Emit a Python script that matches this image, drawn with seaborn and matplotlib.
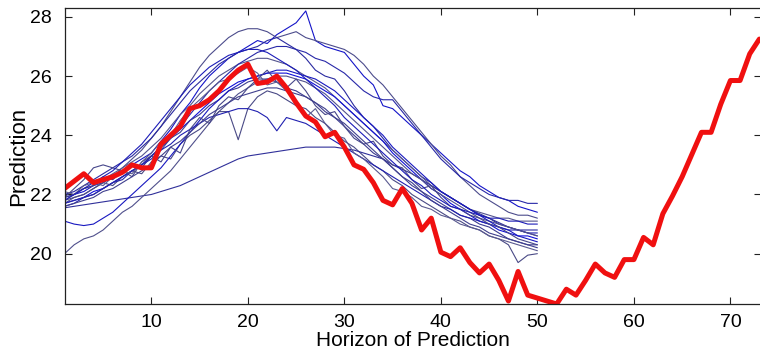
import numpy as np
import pandas as pd
import matplotlib
matplotlib.use("Agg")
import matplotlib.pyplot as plt
import seaborn as sns

sns.set_style("white")
plt.rcParams["font.family"] = ["Liberation Sans", "DejaVu Sans"]

# Observed series (red)
observed = [22.2, 22.45, 22.7, 22.4, 22.5, 22.6, 22.75, 23.0, 22.9, 22.9,
            23.7, 24.0, 24.3, 24.9, 25.0, 25.2, 25.5, 25.9, 26.2, 26.4,
            25.75, 25.8, 26.0, 25.6, 25.1, 24.65, 24.45, 23.95, 24.1, 23.6,
            23.0, 22.85, 22.4, 21.8, 21.65, 22.2, 21.7, 20.8, 21.2, 20.05,
            19.9, 20.2, 19.7, 19.35, 19.65, 19.1, 18.4, 19.4, 18.6, 18.5,
            18.4, 18.3, 18.8, 18.6, 19.1, 19.65, 19.35, 19.2, 19.8, 19.8,
            20.55, 20.3, 21.35, 21.95, 22.6, 23.35, 24.1, 24.1, 25.05, 25.85,
            25.85, 26.75, 27.25]

# Ensemble predictions (blue), horizons 1..50
pred01 = [21.9, 22.0, 22.1, 22.3, 22.4, 22.6, 22.8, 23.0, 23.2, 23.4, 23.8, 24.2, 24.7, 25.1, 25.6, 26.0, 26.3, 26.6, 26.8, 27.0, 27.2, 27.1, 27.4, 27.6, 27.8, 28.2, 27.2, 27.0, 26.9, 26.8, 26.4, 26.0, 25.7, 25.0, 24.9, 24.6, 24.3, 24.0, 23.7, 23.4, 23.1, 22.8, 22.6, 22.3, 22.1, 21.9, 21.8, 21.6, 21.5, 21.4]
pred02 = [21.7, 21.9, 22.0, 22.2, 22.4, 22.6, 22.9, 23.2, 23.5, 23.9, 24.3, 24.8, 25.3, 25.8, 26.3, 26.7, 27.0, 27.3, 27.5, 27.6, 27.6, 27.5, 27.3, 27.4, 27.5, 27.3, 27.2, 27.1, 27.0, 26.9, 26.7, 26.4, 26.0, 25.7, 25.3, 24.9, 24.5, 24.1, 23.7, 23.3, 23.0, 22.6, 22.3, 22.0, 21.8, 21.6, 21.4, 21.3, 21.3, 21.2]
pred03 = [22.0, 22.1, 22.3, 22.5, 22.7, 22.9, 23.1, 23.3, 23.6, 23.9, 24.3, 24.7, 25.1, 25.5, 25.8, 26.1, 26.4, 26.6, 26.8, 26.9, 27.0, 27.2, 27.3, 27.1, 26.9, 26.6, 26.2, 26.0, 25.9, 25.5, 25.0, 24.6, 24.3, 23.9, 23.5, 23.2, 22.9, 22.6, 22.4, 22.1, 21.9, 21.7, 21.5, 21.3, 21.2, 21.0, 20.9, 20.8, 20.8, 20.8]
pred04 = [21.8, 22.0, 22.2, 22.3, 22.5, 22.7, 22.9, 23.1, 23.3, 23.6, 23.9, 24.3, 24.7, 25.0, 25.4, 25.7, 26.0, 26.2, 26.4, 26.5, 26.6, 26.6, 26.5, 26.4, 26.2, 26.0, 25.8, 25.6, 25.3, 25.0, 24.7, 24.4, 24.1, 23.8, 23.5, 23.2, 22.9, 22.6, 22.3, 22.1, 21.9, 21.7, 21.5, 21.4, 21.3, 21.2, 21.2, 21.1, 21.1, 21.1]
pred05 = [21.7, 21.8, 21.9, 22.1, 22.2, 22.4, 22.6, 22.8, 23.0, 23.3, 23.6, 23.9, 24.2, 24.5, 24.8, 25.1, 25.4, 25.6, 25.8, 25.9, 26.0, 26.1, 26.1, 26.1, 26.0, 25.9, 25.7, 25.5, 25.3, 25.0, 24.7, 24.4, 24.1, 23.8, 23.4, 23.1, 22.8, 22.5, 22.2, 22.0, 21.7, 21.5, 21.3, 21.1, 21.0, 20.8, 20.7, 20.6, 20.6, 20.5]
pred06 = [21.9, 22.0, 22.2, 22.3, 22.6, 22.5, 22.8, 23.0, 22.9, 23.3, 23.5, 23.9, 24.1, 24.5, 24.7, 25.0, 25.2, 25.5, 25.6, 25.8, 25.9, 25.9, 25.8, 25.6, 25.5, 25.3, 25.1, 24.8, 24.6, 24.3, 24.0, 23.7, 23.4, 23.2, 22.9, 22.6, 22.4, 22.1, 21.9, 21.7, 21.5, 21.3, 21.2, 21.0, 20.9, 20.7, 20.5, 20.4, 20.3, 20.2]
pred07 = [21.8, 21.9, 22.0, 22.2, 22.4, 22.3, 22.6, 22.8, 22.7, 23.1, 23.3, 23.2, 23.7, 24.0, 24.2, 24.5, 24.8, 24.8, 23.85, 24.9, 25.3, 25.5, 25.4, 25.2, 25.0, 24.9, 24.6, 24.4, 24.1, 23.8, 23.6, 23.3, 23.0, 22.8, 22.5, 22.3, 22.0, 21.8, 21.6, 21.4, 21.2, 21.1, 20.9, 20.8, 20.6, 20.5, 20.3, 19.7, 19.95, 20.0]
pred08 = [21.6, 21.7, 21.9, 22.0, 22.2, 22.4, 22.6, 22.8, 23.0, 23.2, 23.5, 23.7, 24.0, 24.2, 24.4, 24.6, 24.7, 24.8, 24.9, 24.9, 24.8, 24.6, 24.15, 24.6, 24.5, 24.4, 24.2, 24.0, 23.8, 23.6, 23.4, 23.2, 23.0, 22.8, 22.6, 22.4, 22.2, 22.0, 21.8, 21.6, 21.5, 21.3, 21.2, 21.1, 21.0, 20.9, 20.8, 20.8, 20.7, 20.7]
pred09 = [21.55, 21.6, 21.65, 21.7, 21.75, 21.8, 21.85, 21.9, 21.95, 22.0, 22.1, 22.2, 22.3, 22.45, 22.6, 22.75, 22.9, 23.05, 23.2, 23.3, 23.35, 23.4, 23.45, 23.5, 23.55, 23.6, 23.6, 23.6, 23.6, 23.55, 23.5, 23.4, 23.3, 23.2, 23.0, 22.85, 22.7, 22.5, 22.3, 22.1, 21.9, 21.7, 21.5, 21.35, 21.2, 21.05, 20.9, 20.8, 20.7, 20.6]
pred10 = [20.0, 20.3, 20.5, 20.6, 20.8, 21.1, 21.4, 21.6, 21.9, 22.2, 22.5, 22.8, 23.2, 23.6, 24.0, 24.4, 24.8, 25.1, 25.4, 25.6, 25.8, 25.9, 26.0, 26.0, 25.9, 25.8, 25.6, 25.4, 25.1, 24.8, 24.5, 24.2, 23.9, 23.6, 23.3, 23.0, 22.7, 22.5, 22.2, 22.0, 21.8, 21.6, 21.4, 21.2, 21.1, 21.0, 20.9, 20.8, 20.7, 20.6]
pred11 = [21.1, 21.0, 20.95, 21.0, 21.2, 21.4, 21.7, 22.0, 22.3, 22.6, 22.9, 23.3, 23.7, 24.1, 24.5, 24.9, 25.2, 25.5, 25.7, 25.9, 26.0, 26.1, 26.2, 26.2, 26.1, 26.0, 25.9, 25.7, 25.5, 25.2, 24.9, 24.6, 24.3, 24.0, 23.6, 23.3, 23.0, 22.7, 22.4, 22.1, 21.9, 21.7, 21.5, 21.3, 21.1, 20.9, 20.8, 20.6, 20.5, 20.4]
pred12 = [21.9, 22.2, 22.5, 22.9, 23.0, 22.9, 22.8, 22.6, 23.1, 23.3, 23.1, 23.6, 23.4, 24.2, 24.6, 24.4, 25.0, 25.3, 25.2, 25.6, 25.9, 26.2, 25.8, 25.6, 25.9, 25.5, 25.0, 24.7, 24.8, 24.3, 23.9, 23.7, 23.8, 23.3, 23.0, 22.9, 22.5, 22.2, 22.3, 21.9, 21.6, 21.5, 21.3, 21.2, 21.0, 20.9, 20.7, 20.5, 20.4, 20.3]
pred13 = [21.7, 21.8, 21.9, 22.0, 22.2, 22.4, 22.5, 22.8, 23.0, 23.3, 23.6, 23.9, 24.3, 24.7, 25.1, 25.5, 25.8, 26.1, 26.4, 26.6, 26.8, 26.9, 27.0, 27.0, 26.9, 26.8, 26.6, 26.5, 26.3, 26.1, 25.8, 25.5, 25.3, 25.2, 25.2, 24.8, 24.4, 24.0, 23.6, 23.2, 22.9, 22.6, 22.4, 22.2, 22.0, 21.9, 21.8, 21.8, 21.7, 21.7]
pred14 = [22.1, 22.0, 22.3, 22.4, 22.3, 22.6, 22.8, 22.7, 23.1, 23.4, 23.8, 24.0, 24.5, 24.9, 25.2, 25.5, 25.8, 25.9, 26.1, 26.3, 26.1, 25.7, 25.8, 25.5, 25.1, 24.6, 24.9, 24.4, 24.0, 23.9, 23.4, 23.2, 22.9, 22.6, 22.2, 22.1, 21.9, 21.6, 21.5, 21.3, 21.2, 21.0, 20.9, 20.8, 20.6, 20.5, 20.4, 20.3, 20.2, 20.1]
pred15 = [21.8, 22.0, 22.2, 22.4, 22.6, 22.8, 23.1, 23.4, 23.7, 24.1, 24.5, 24.9, 25.3, 25.7, 26.0, 26.3, 26.5, 26.7, 26.8, 26.9, 26.9, 26.8, 26.6, 26.4, 26.2, 25.9, 25.6, 25.3, 25.0, 24.6, 24.3, 24.0, 23.7, 23.4, 23.1, 22.8, 22.5, 22.3, 22.0, 21.8, 21.6, 21.5, 21.4, 21.3, 21.2, 21.2, 21.1, 21.1, 21.0, 21.0]
pred16 = [21.6, 21.7, 21.8, 21.9, 22.1, 22.2, 22.4, 22.6, 22.8, 23.0, 23.3, 23.6, 23.8, 24.1, 24.4, 24.7, 24.9, 25.1, 25.3, 25.4, 25.5, 25.6, 25.6, 25.5, 25.4, 25.3, 25.1, 24.9, 24.6, 24.4, 24.1, 23.8, 23.5, 23.2, 22.9, 22.6, 22.3, 22.1, 21.8, 21.6, 21.4, 21.2, 21.0, 20.9, 20.7, 20.6, 20.5, 20.4, 20.3, 20.3]

predictions = [pred01, pred02, pred03, pred04, pred05, pred06, pred07, pred08,
               pred09, pred10, pred11, pred12, pred13, pred14, pred15, pred16]

x_label = "Horizon of Prediction"
y_label = "Prediction"
x_ticks = [10, 20, 30, 40, 50, 60, 70]
y_ticks = [20, 22, 24, 26, 28]

rows = []
for i, p in enumerate(predictions):
    for h, v in enumerate(p, start=1):
        rows.append({"run": f"r{i}", "h": h, "v": v})
df_pred = pd.DataFrame(rows)
df_obs = pd.DataFrame({"h": np.arange(1, len(observed) + 1), "v": observed})

blues = ["#1414c8", "#4c4c8c", "#2a2aa0", "#55558e", "#1010d8", "#3c3c90",
         "#4a4a86", "#2020b0", "#30309a", "#50508c", "#1818c0", "#46468a",
         "#2828a8", "#5a5a90", "#1c1cb8", "#40408e"]

fig = plt.figure(figsize=(7.6, 3.54), dpi=100)
ax = fig.add_axes([64.5 / 760, 50 / 354, (761 - 64.5) / 760, 296 / 354])

sns.lineplot(data=df_pred, x="h", y="v", hue="run", palette=blues,
             legend=False, linewidth=0.8, ax=ax, sort=False)
sns.lineplot(data=df_obs, x="h", y="v", color="#f01010", linewidth=3.6,
             ax=ax, sort=False)

ax.set_xlim(1, 73.17)
ax.set_ylim(18.3, 28.3)
ax.set_xticks(x_ticks)
ax.set_yticks(y_ticks)
ax.set_xlabel(x_label, fontsize=15, labelpad=0, color="black")
ax.set_ylabel(y_label, fontsize=16, labelpad=1, color="black")
ax.tick_params(axis="both", which="both", direction="in", length=5,
               width=0.8, labelsize=14, top=True, right=True,
               bottom=True, left=True, color="#222222", labelcolor="black")
ax.tick_params(axis="x", pad=7)
ax.tick_params(axis="y", pad=9)
for s in ax.spines.values():
    s.set_color("#222222")
    s.set_linewidth(0.9)

fig.savefig("out.png", dpi=100)
